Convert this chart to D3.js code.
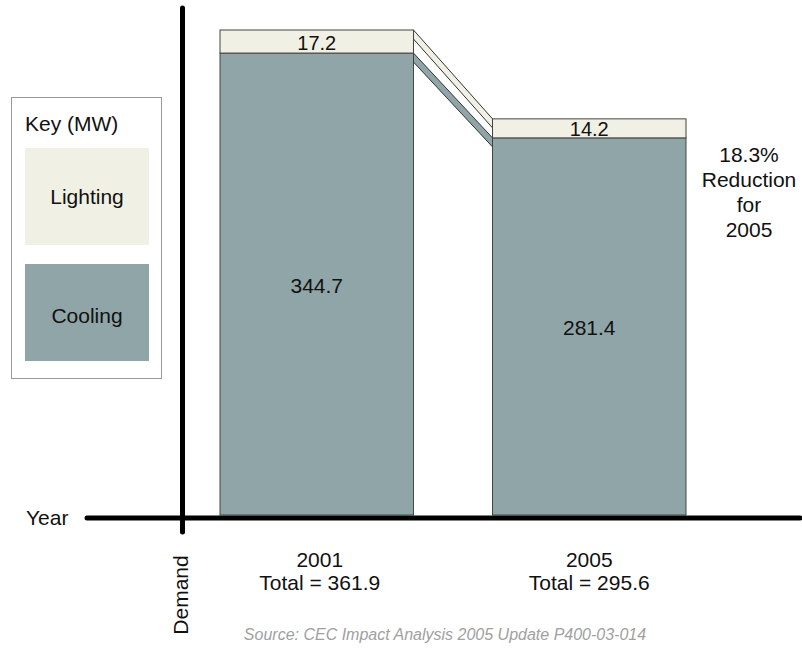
<!DOCTYPE html>
<html>
<head>
<meta charset="utf-8">
<script src="https://cdn.jsdelivr.net/npm/d3@7"></script>
<style>
  html, body { margin: 0; padding: 0; background: #fff; }
  svg { display: block; font-family: "Liberation Sans", Arial, sans-serif; }
</style>
</head>
<body>
<svg id="chart" width="802" height="649"></svg>
<script>
// Peak demand reduction by end use (MW)
const years = ["2001", "2005"];
const cooling = [344.7, 281.4];
const lighting = [17.2, 14.2];
const totals = [361.9, 295.6];
const seriesNames = ["Lighting", "Cooling"];
const reductionNote = ["18.3%", "Reduction", "for", "2005"];

const colors = { Lighting: "#f0f0e4", Cooling: "#8fa5a8" };

const svg = d3.select("#chart");

const x = d3.scaleBand().domain(years).range([220, 686]).paddingInner(0.29).paddingOuter(0);
const y = d3.scaleLinear().domain([0, d3.max(totals)]).range([515, 30]);

// connector ribbons between the two stacks
const strip = 9;
const x1 = x(years[0]) + x.bandwidth();
const x2 = x(years[1]);
function ribbon(yl, yr) {
  return `M${x1},${yl}L${x2},${yr}L${x2},${yr + strip}L${x1},${yl + strip}Z`;
}
svg.append("path")
  .attr("d", ribbon(y(totals[0]), y(totals[1])))
  .attr("fill", colors.Lighting).attr("stroke", "#333").attr("stroke-width", 1);
svg.append("path")
  .attr("d", ribbon(y(cooling[0]), y(cooling[1])))
  .attr("fill", colors.Cooling).attr("stroke", "#333").attr("stroke-width", 1);

// stacked bars
const stackData = years.map((yr, i) => ({ year: yr, Cooling: cooling[i], Lighting: lighting[i] }));
const stacked = d3.stack().keys(["Cooling", "Lighting"])(stackData);

const layers = svg.selectAll("g.layer").data(stacked).join("g").attr("class", "layer");
layers.selectAll("rect").data(d => d.map(s => ({ key: d.key, s })))
  .join("rect")
  .attr("x", d => x(d.s.data.year))
  .attr("width", x.bandwidth())
  .attr("y", d => y(d.s[1]))
  .attr("height", d => y(d.s[0]) - y(d.s[1]))
  .attr("fill", d => colors[d.key])
  .attr("stroke", "#444")
  .attr("stroke-width", 1);

layers.selectAll("text").data(d => d.map(s => ({ key: d.key, s })))
  .join("text")
  .attr("x", d => x(d.s.data.year) + x.bandwidth() / 2)
  .attr("y", d => (y(d.s[0]) + y(d.s[1])) / 2 + 1)
  .attr("text-anchor", "middle")
  .attr("dominant-baseline", "central")
  .attr("font-size", d => d.key === "Lighting" ? 20 : 21)
  .attr("fill", "#111")
  .text(d => (d.s[1] - d.s[0]).toFixed(1));

// axes
svg.append("line").attr("x1", 87).attr("x2", 800).attr("y1", 518).attr("y2", 518)
  .attr("stroke", "#000").attr("stroke-width", 5).attr("stroke-linecap", "round");
svg.append("line").attr("x1", 182.5).attr("x2", 182.5).attr("y1", 8).attr("y2", 532)
  .attr("stroke", "#000").attr("stroke-width", 5).attr("stroke-linecap", "round");

svg.append("text").attr("x", 26).attr("y", 525).attr("font-size", 21).attr("fill", "#111").text("Year");
svg.append("text")
  .attr("transform", "translate(188,595) rotate(-90)")
  .attr("text-anchor", "middle").attr("font-size", 21).attr("fill", "#111").text("Demand");

// category labels with totals
const cat = svg.selectAll("g.cat").data(years).join("g").attr("class", "cat");
cat.append("text")
  .attr("x", (d, i) => x(d) + x.bandwidth() / 2 + (i === 0 ? 3 : 0))
  .attr("y", 567).attr("text-anchor", "middle").attr("font-size", 21).attr("fill", "#111")
  .text(d => d);
cat.append("text")
  .attr("x", (d, i) => x(d) + x.bandwidth() / 2 + (i === 0 ? 3 : 0))
  .attr("y", 590).attr("text-anchor", "middle").attr("font-size", 21).attr("fill", "#111")
  .text((d, i) => `Total = ${totals[i]}`);

// reduction note
svg.append("text").attr("text-anchor", "middle").attr("font-size", 21).attr("fill", "#111")
  .selectAll("tspan").data(reductionNote).join("tspan")
  .attr("x", 749).attr("y", (d, i) => 162 + i * 25).text(d => d);

// key
const key = svg.append("g");
key.append("rect").attr("x", 11.5).attr("y", 97.5).attr("width", 150).attr("height", 281)
  .attr("fill", "#fff").attr("stroke", "#999").attr("stroke-width", 1);
key.append("text").attr("x", 25).attr("y", 131).attr("font-size", 21).attr("fill", "#111").text("Key (MW)");
const keyItems = key.selectAll("g.item").data(seriesNames).join("g").attr("class", "item");
keyItems.append("rect")
  .attr("x", 25).attr("width", 124).attr("height", 97)
  .attr("y", (d, i) => 148 + i * 116)
  .attr("fill", d => colors[d]);
keyItems.append("text")
  .attr("x", 87).attr("y", (d, i) => 204 + i * 119)
  .attr("text-anchor", "middle").attr("font-size", 21).attr("fill", "#111")
  .text(d => d);

// source
svg.append("text").attr("x", 445).attr("y", 640).attr("text-anchor", "middle")
  .attr("font-size", 16).attr("font-style", "italic").attr("fill", "#a0a0a0")
  .text("Source: CEC Impact Analysis 2005 Update P400-03-014");
</script>
</body>
</html>
